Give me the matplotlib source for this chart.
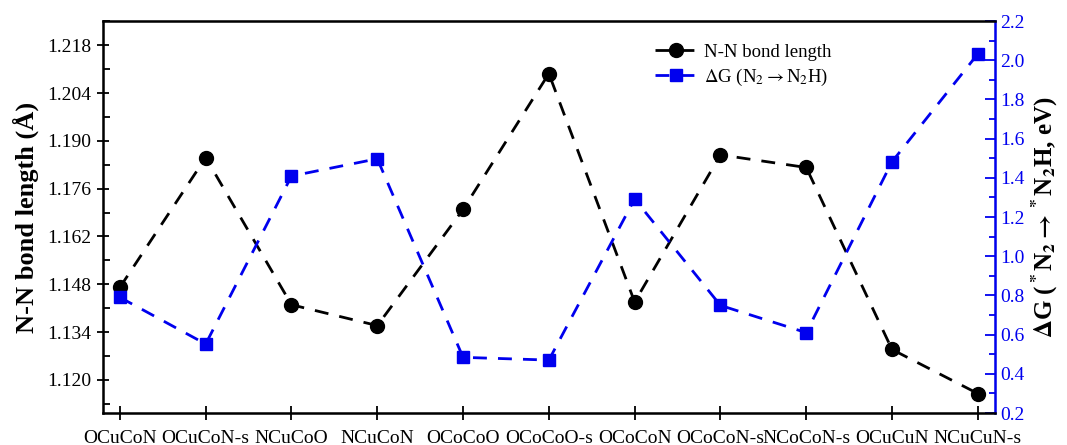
import matplotlib
matplotlib.use("Agg")
import matplotlib.pyplot as plt
from matplotlib.ticker import MultipleLocator, FormatStrFormatter

plt.rcParams['font.family'] = ['Liberation Serif', 'DejaVu Serif']
plt.rcParams['mathtext.fontset'] = 'stix'

# data
structures = ['OCuCoN', 'OCuCoN-s', 'NCuCoO', 'NCuCoN', 'OCoCoO', 'OCoCoO-s',
              'OCoCoN', 'OCoCoN-s', 'NCoCoN-s', 'OCuCuN', 'NCuCuN-s']
bond_length = [1.1471, 1.1851, 1.1420, 1.1359, 1.1699, 1.2097,
               1.1428, 1.1859, 1.1822, 1.1289, 1.1160]
delta_g = [0.790, 0.552, 1.409, 1.497, 0.484, 0.470,
           1.292, 0.749, 0.610, 1.482, 2.032]

blue = '#0000ee'
x = list(range(len(structures)))

fig = plt.figure(figsize=(10.67, 4.45), dpi=100)
ax = fig.add_axes([0.0963, 0.0719, 0.8362, 0.8809])
ax2 = ax.twinx()

l1, = ax.plot(x, bond_length, color='black', ls=(0, (5, 4)), lw=2,
              marker='o', ms=10, label='N-N bond length')
l2, = ax2.plot(x, delta_g, color=blue, ls=(0, (5, 4)), lw=2,
               marker='s', ms=9, label=r'$\Delta$G (N$_2$$\rightarrow$N$_2$H)')

ax.set_xlim(-0.2, 10.2)
ax.set_ylim(1.1103, 1.2251)
ax2.set_ylim(0.2, 2.2)

ax.set_xticks(x)
ax.set_xticklabels(structures)
ax.yaxis.set_major_locator(MultipleLocator(0.014))
ax.yaxis.set_minor_locator(MultipleLocator(0.007))
ax.yaxis.set_major_formatter(FormatStrFormatter('%.3f'))
ax2.yaxis.set_major_locator(MultipleLocator(0.2))
ax2.yaxis.set_minor_locator(MultipleLocator(0.1))
ax2.yaxis.set_major_formatter(FormatStrFormatter('%.1f'))

ax.tick_params(axis='x', direction='inout', length=10, width=1.3, labelsize=14, pad=7)
ax.tick_params(axis='y', which='major', direction='inout', length=9, width=1.3, labelsize=14)
ax.tick_params(axis='y', which='minor', direction='in', length=5, width=1.3)
ax2.tick_params(axis='y', which='major', direction='in', length=7, width=1.3,
                labelsize=14, colors=blue)
ax2.tick_params(axis='y', which='minor', direction='in', length=4, width=1.3, colors=blue)

for s in ['left', 'bottom', 'top', 'right']:
    ax2.spines[s].set_linewidth(1.8)
ax2.spines['right'].set_color(blue)

ax.set_ylabel('N-N bond length (Å)', fontsize=19, fontweight='bold', labelpad=6)
ax2.set_ylabel(r'$\mathbf{\Delta}$G ($\mathbf{^*}$N$_\mathbf{2}$$\mathbf{\rightarrow}$$\mathbf{^*}$N$_\mathbf{2}$H, eV)',
               fontsize=18, fontweight='bold', labelpad=4)

ax2.legend(handles=[l1, l2], loc='upper left', bbox_to_anchor=(0.6, 0.985),
           frameon=False, fontsize=13.5, handlelength=2.2, handletextpad=0.4,
           labelspacing=0.3)

fig.savefig('out.png', dpi=100)
